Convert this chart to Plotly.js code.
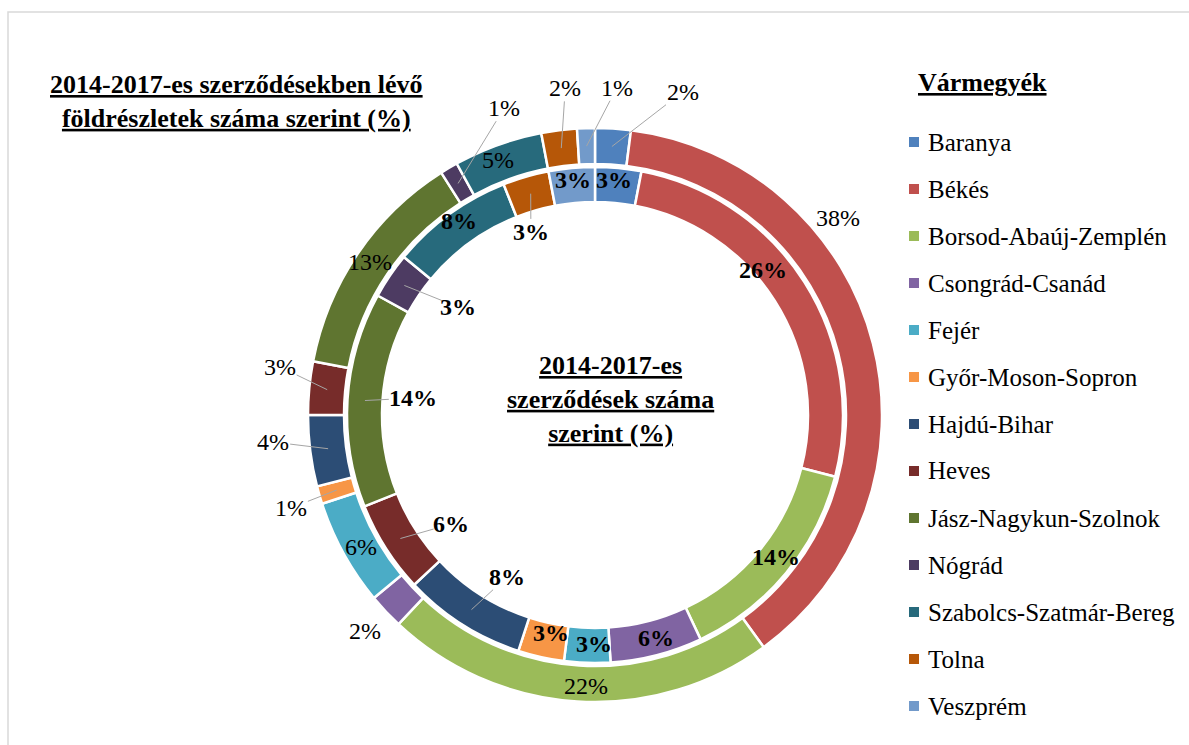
<!DOCTYPE html>
<html>
<head>
<meta charset="utf-8">
<script src="https://cdn.plot.ly/plotly-3.0.1.min.js"></script>
<style>html,body{margin:0;padding:0;background:#fff}#chart{width:1189px;height:745px}</style>
</head>
<body>
<div id="chart"></div>
<script>
// ---- data ----
const counties = ["Baranya","Békés","Borsod-Abaúj-Zemplén","Csongrád-Csanád","Fejér","Győr-Moson-Sopron","Hajdú-Bihar","Heves","Jász-Nagykun-Szolnok","Nógrád","Szabolcs-Szatmár-Bereg","Tolna","Veszprém"];
// outer ring: share of land parcels in 2014-2017 contracts (%)
const parcelShare = [2,38,22,2,6,1,4,3,13,1,5,2,1];
// inner ring: share of 2014-2017 contracts (%)
const contractShare = [3,26,14,6,3,3,8,6,14,3,8,3,3];
const colors = ["#4F81BD","#C0504D","#9BBB59","#8064A2","#4BACC6","#F79646","#2C4D75","#772C2A","#5F7530","#4D3B62","#276A7C","#B65708","#729ACA"];
const outerTitle = "2014-2017-es szerződésekben lévő<br>földrészletek száma szerint (%)";
const innerTitle = "2014-2017-es<br>szerződések száma<br>szerint (%)";
const legendTitle = "Vármegyék";

// ---- label placement (radius px, angular offset deg, leader line) ----
const outerLabelR   = [335,313,271,316,269,318,323,319,272,320,273,328,328];
const outerLabelDA  = [11.6,-24.6,-1.7,0,-0.6,-0.8,2.4,3.3,0,14.1,-1,2,5.6];
const outerLeader   = [1,0,0,0,0,1,1,1,0,1,0,1,1];
const innerLabelR   = [236,222,230,231,229,222,184,181,183,174,237,194,236];
const innerLabelDA  = [-0.8,-8.4,-1.5,-0.9,-1.5,-1.2,-3.9,-4.7,1.7,4.1,1,-3.1,0.1];
const innerLeader   = [0,0,0,0,0,0,1,1,1,1,0,1,0];

// ---- geometry ----
const W = 1189, H = 745;
const cx = 595, cy = 415;
const Rout = 287, RoutIn = 251, Rin = 248, RinIn = 213;
const FONT = "Liberation Serif";
const FS = 24, FS_TITLE = 26, FS_LEG = 25;
const px = x => x / W, py = y => 1 - y / H;

const traces = [
  {type:"pie", labels:counties, values:parcelShare, sort:false, direction:"clockwise", rotation:0,
   hole:RoutIn/Rout, marker:{colors:colors, line:{color:"#fff", width:2.5}}, textinfo:"none",
   hoverinfo:"label+percent", showlegend:false,
   domain:{x:[px(cx-Rout), px(cx+Rout)], y:[py(cy+Rout), py(cy-Rout)]}},
  {type:"pie", labels:counties, values:contractShare, sort:false, direction:"clockwise", rotation:0,
   hole:RinIn/Rin, marker:{colors:colors, line:{color:"#fff", width:2.5}}, textinfo:"none",
   hoverinfo:"label+percent", showlegend:false,
   domain:{x:[px(cx-Rin), px(cx+Rin)], y:[py(cy+Rin), py(cy-Rin)]}}
];

const annotations = [], shapes = [];
shapes.push({type:"rect", xref:"paper", yref:"paper", x0:px(8), x1:px(1200), y0:py(760), y1:py(12),
  line:{color:"#d9d9d9", width:1.5}, fillcolor:"rgba(0,0,0,0)", layer:"below"});

function addLabels(values, rArr, daArr, leadArr, ringMid, bold) {
  const total = values.reduce((a,b)=>a+b,0);
  let cum = 0;
  values.forEach((v,i) => {
    const mid = (cum + v/2) / total * 360;
    cum += v;
    const th = (mid + daArr[i]) * Math.PI/180;
    const lx = cx + rArr[i]*Math.sin(th), ly = cy - rArr[i]*Math.cos(th);
    const txt = v + "%";
    annotations.push({xref:"paper", yref:"paper", x:px(lx), y:py(ly), text: bold ? "<b>"+txt+"</b>" : txt,
      showarrow:false, xanchor:"center", yanchor:"middle", font:{family:FONT, size:FS, color:"#000"}});
    if (leadArr[i]) {
      const m = mid*Math.PI/180;
      const sx = cx + ringMid*Math.sin(m), sy = cy - ringMid*Math.cos(m);
      const dx = sx - lx, dy = sy - ly;
      const hw = txt.length*7 + 3, hh = 13;
      const t = Math.min(Math.abs(dx)>0.01 ? hw/Math.abs(dx) : 1e9, Math.abs(dy)>0.01 ? hh/Math.abs(dy) : 1e9);
      const ex = lx + dx*t, ey = ly + dy*t;
      shapes.push({type:"line", xref:"paper", yref:"paper", x0:px(sx), y0:py(sy), x1:px(ex), y1:py(ey),
        line:{color:"#a6a6a6", width:1}});
    }
  });
}
addLabels(parcelShare, outerLabelR, outerLabelDA, outerLeader, (Rout+RoutIn)/2, false);
addLabels(contractShare, innerLabelR, innerLabelDA, innerLeader, (Rin+RinIn)/2, true);

const ul = s => s.split("<br>").map(t=>"<b><u>"+t+"</u></b>").join("<br>");
// titles
annotations.push({xref:"paper", yref:"paper", x:px(236), y:py(102), text:ul(outerTitle),
  showarrow:false, xanchor:"center", yanchor:"middle", align:"center", font:{family:FONT, size:FS_TITLE, color:"#000"}});
annotations.push({xref:"paper", yref:"paper", x:px(610), y:py(399), text:ul(innerTitle),
  showarrow:false, xanchor:"center", yanchor:"middle", align:"center", font:{family:FONT, size:FS_TITLE, color:"#000"}});

// legend (manual)
annotations.push({xref:"paper", yref:"paper", x:px(916), y:py(82), text:ul(legendTitle),
  showarrow:false, xanchor:"left", yanchor:"middle", font:{family:FONT, size:FS_TITLE, color:"#000"}});
counties.forEach((c,i) => {
  const y = 142 + 47*i;
  shapes.push({type:"rect", xref:"paper", yref:"paper", x0:px(909), x1:px(919), y0:py(y+5), y1:py(y-5),
    fillcolor:colors[i], line:{width:0}});
  annotations.push({xref:"paper", yref:"paper", x:px(926), y:py(y), text:c, showarrow:false,
    xanchor:"left", yanchor:"middle", font:{family:FONT, size:FS_LEG, color:"#000"}});
});

Plotly.newPlot("chart", traces, {
  width:W, height:H, margin:{l:0,r:0,t:0,b:0}, paper_bgcolor:"#fff", plot_bgcolor:"#fff",
  showlegend:false, annotations:annotations, shapes:shapes
}, {displayModeBar:false, staticPlot:true});
</script>
</body>
</html>
